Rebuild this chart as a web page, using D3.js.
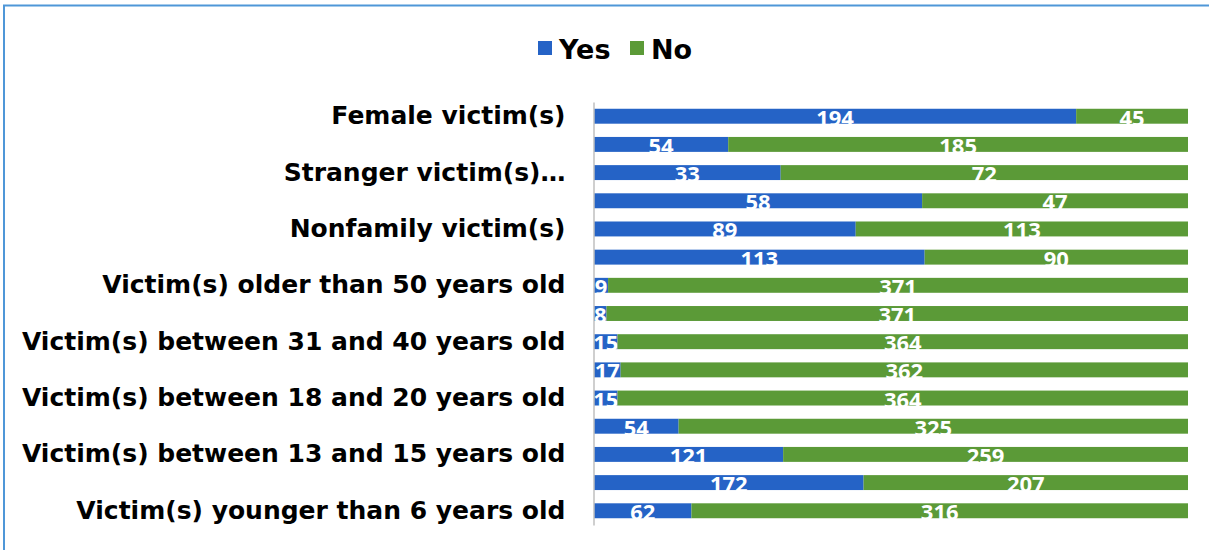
<!DOCTYPE html>
<html>
<head>
<meta charset="utf-8">
<script src="https://cdn.jsdelivr.net/npm/d3@7"></script>
<style>
  body { margin: 0; background: #fff; }
  svg { display: block; }
</style>
</head>
<body>
<div id="chart"></div>
<script>
// categories, top to bottom (Excel only prints every other label)
const categories = [
  'Female victim(s)',
  'Male victim(s)',
  'Stranger victim(s)\u2026',
  'Acquaintance victim(s)',
  'Nonfamily victim(s)',
  'Family victim(s)',
  'Victim(s) older than 50 years old',
  'Victim(s) between 41 and 50 years old',
  'Victim(s) between 31 and 40 years old',
  'Victim(s) between 21 and 30 years old',
  'Victim(s) between 18 and 20 years old',
  'Victim(s) between 16 and 17 years old',
  'Victim(s) between 13 and 15 years old',
  'Victim(s) between 6 and 12 years old',
  'Victim(s) younger than 6 years old'
];
const yesValues = [194, 54, 33, 58, 89, 113, 9, 8, 15, 17, 15, 54, 121, 172, 62];
const noValues = [45, 185, 72, 47, 113, 90, 371, 371, 364, 362, 364, 325, 259, 207, 316];
const seriesNames = ['Yes', 'No'];
const colors = ['#2563c6', '#5b9a37'];

const width = 1209, height = 550;

const svg = d3.select('#chart').append('svg')
  .attr('width', width)
  .attr('height', height);

// outer frame
svg.append('path')
  .attr('d', `M4,${height + 5}V5.5H${width + 5}`)
  .attr('fill', 'none')
  .attr('stroke', '#4f97d8')
  .attr('stroke-width', 2);

const rows = categories.map((c, i) => ({
  cat: c, Yes: yesValues[i], No: noValues[i]
}));

const stack = d3.stack()
  .keys(seriesNames)
  .offset(d3.stackOffsetExpand);
const layers = stack(rows);

const x = d3.scaleLinear()
  .domain([0, 1])
  .range([594, 1188]);

const y = d3.scaleBand()
  .domain(categories)
  .range([102, 525])
  .paddingInner(0.47)
  .paddingOuter(0.24);

const groups = svg.selectAll('g.layer')
  .data(layers)
  .join('g')
  .attr('class', 'layer')
  .attr('fill', (d, i) => colors[i]);

groups.selectAll('rect')
  .data(d => d)
  .join('rect')
  .attr('x', d => x(d[0]))
  .attr('y', d => y(d.data.cat))
  .attr('width', d => x(d[1]) - x(d[0]))
  .attr('height', y.bandwidth());

// data labels (white text runs a bit past the bar bottom, like the original)
groups.each(function(layer) {
  d3.select(this).selectAll('text')
    .data(layer)
    .join('text')
    .attr('x', d => (x(d[0]) + x(d[1])) / 2)
    .attr('y', d => y(d.data.cat) + y.bandwidth() + 2)
    .attr('text-anchor', 'middle')
    .attr('fill', '#fff')
    .style('font-family', '"Open Sans", sans-serif')
    .style('font-weight', 700)
    .style('font-size', '22px')
    .text(d => d.data[layer.key]);
});

// category axis
const yAxis = d3.axisLeft(y)
  .tickSize(0)
  .tickSizeOuter(0)
  .tickPadding(28)
  .tickFormat((d, i) => i % 2 === 0 ? d : '');

const axisG = svg.append('g')
  .attr('transform', 'translate(593.5,0)')
  .call(yAxis);
axisG.select('.domain').attr('stroke', '#bfbfbf').attr('stroke-width', 1.5);
axisG.selectAll('text')
  .attr('fill', '#000')
  .style('font-family', '"DejaVu Sans", sans-serif')
  .style('font-weight', 700)
  .style('font-size', '25px');

// legend
const legend = svg.append('g')
  .attr('transform', 'translate(538,48)');
const legendX = [0, 92];
seriesNames.forEach((name, i) => {
  const g = legend.append('g').attr('transform', `translate(${legendX[i]},0)`);
  g.append('rect')
    .attr('x', 0).attr('y', -7)
    .attr('width', 14).attr('height', 14)
    .attr('fill', colors[i]);
  g.append('text')
    .attr('x', 21)
    .attr('y', 1)
    .attr('dominant-baseline', 'central')
    .style('font-family', '"DejaVu Sans", sans-serif')
    .style('font-weight', 700)
    .style('font-size', '27px')
    .text(name);
});
</script>
</body>
</html>
